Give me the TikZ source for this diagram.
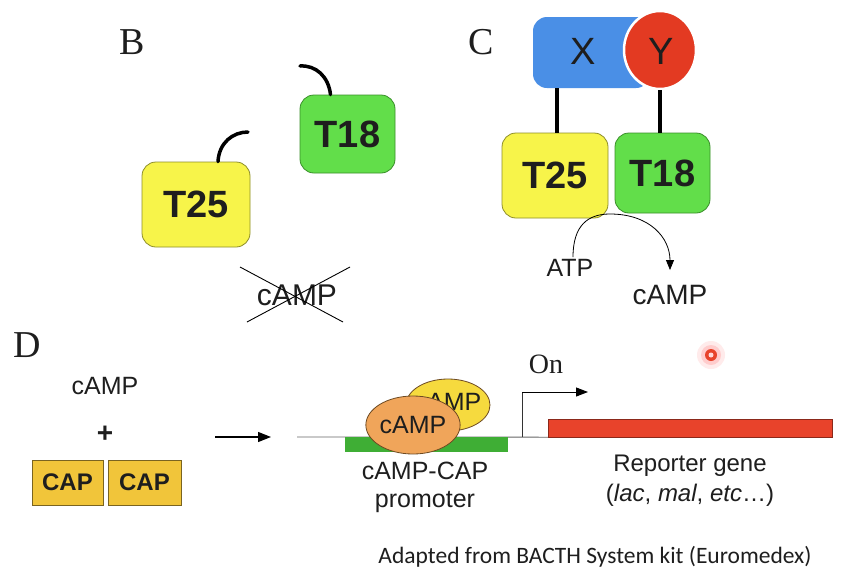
\documentclass[tikz,border=0pt]{standalone}
\usepackage{fontspec}
\setmainfont{Liberation Sans}
\newfontfamily\serifletters{Liberation Serif}
\newfontfamily\footfont{Carlito}
\usetikzlibrary{shapes.geometric,arrows.meta}
\definecolor{tyel}{HTML}{F7F44A}
\definecolor{tyeld}{HTML}{8E8E2A}
\definecolor{tgrn}{HTML}{62DE4A}
\definecolor{tgrnd}{HTML}{3A8F2A}
\definecolor{xblue}{HTML}{4A8FE6}
\definecolor{yred}{HTML}{E33A22}
\definecolor{capgold}{HTML}{F1C53A}
\definecolor{capd}{HTML}{7A6420}
\definecolor{orng}{HTML}{F0A55A}
\definecolor{orngd}{HTML}{6E4A22}
\definecolor{yell2}{HTML}{F6DA3E}
\definecolor{prgrn}{HTML}{3FAE35}
\definecolor{repred}{HTML}{E8432B}
\definecolor{txt}{HTML}{1E1E1E}
\begin{document}
\begin{tikzpicture}[x=1pt,y=-1pt,
  tbox/.style={draw, line width=0.8pt, rounded corners=14pt, inner sep=0pt,
    font=\fontsize{38}{38}\selectfont\bfseries, text=txt},
  yelbox/.style={tbox, fill=tyel, draw=tyeld},
  grnbox/.style={tbox, fill=tgrn, draw=tgrnd},
  tether/.style={line width=3.5pt, line cap=round},
  letter/.style={font=\serifletters\fontsize{38}{38}\selectfont, text=txt},
  lbl/.style={font=\fontsize{#1}{#1}\selectfont, text=txt, inner sep=0pt},
  capbox/.style={draw=capd, line width=0.8pt, fill=capgold, inner sep=0pt,
    font=\fontsize{24}{24}\selectfont\bfseries, text=txt}
]
\useasboundingbox[fill=white] (0,0) rectangle (854,584);

% ---------- Panel B ----------
\node[letter] (lB) at (132,42) {B};
\node[grnbox, minimum width=95pt, minimum height=78pt] (B18) at (347.5,134) {T18};
\node[yelbox, minimum width=108pt, minimum height=85pt] (B25) at (196,204.5) {T25};
\coordinate (t18e) at (300,66);
\coordinate (t25e) at (248,132);
\draw[tether] ([xshift=-17pt]B18.north) .. controls +(-2,-18) and +(16,-1) .. (t18e);
\draw[tether] ([xshift=22pt]B25.north) .. controls +(1,-19) and +(-15,0) .. (t25e);
\node[lbl=30] (bcamp) at (297,295) {cAMP};
\coordinate (x1a) at (240,267); \coordinate (x1b) at (343,322);
\coordinate (x2a) at (350,267); \coordinate (x2b) at (247,322);
\draw[line width=0.9pt] (x1a) -- (x1b);
\draw[line width=0.9pt] (x2a) -- (x2b);

% ---------- Panel C ----------
\node[letter] (lC) at (481,42) {C};
\node[draw=none, fill=xblue, rounded corners=14pt, minimum width=117pt, minimum height=71pt, inner sep=0pt] (Xb) at (591.5,52.5) {};
\node[lbl=38] (Xl) at (583,51) {X};
\node[ellipse, fill=yred, draw=white, line width=2.5pt, minimum width=72pt, minimum height=78pt, inner sep=0pt] (Yb) at (660,50) {};
\node[lbl=38] (Yl) at (661,51) {Y};
\node[yelbox, minimum width=106pt, minimum height=85pt] (C25) at (555,175.5) {T25};
\node[grnbox, minimum width=95pt, minimum height=80pt] (C18) at (662.5,173) {T18};
\draw[line width=3.5pt] ([xshift=2pt]C25.north) -- ([xshift=2pt]C25.north |- Xb.south);
\draw[line width=3.5pt] (Yb.south) -- (Yb.south |- C18.north);
\node[lbl=25] (atp) at (570,268) {ATP};
\node[lbl=28] (ccamp) at (670,295) {cAMP};
\coordinate (cmid) at (610,214);
\draw[line width=0.8pt, -{Triangle[length=10pt,width=8pt]}]
  ([xshift=3pt,yshift=2pt]atp.north) .. controls +(0,-32) and +(-22,0) .. (cmid)
  .. controls +(40,0) and +(0,-32) .. ([yshift=15pt]ccamp.north);

% ---------- Panel D ----------
\node[letter] (lD) at (27,345) {D};
\node[lbl=25] (dcamp) at (105,386) {cAMP};
\node[font=\fontsize{28}{28}\selectfont\bfseries, text=txt, inner sep=0pt] (plus) at (105,434) {+};
\node[capbox, minimum width=71pt, minimum height=45pt] (cap1) at (67.5,482.5) {CAP};
\node[capbox, minimum width=73pt, minimum height=45pt] (cap2) at (144.5,482.5) {CAP};
\coordinate (ar1) at (215,437);
\coordinate (ar2) at (271,437);
\draw[line width=1.2pt, -{Triangle[length=13pt,width=10pt]}] (ar1) -- (ar2);

\node[draw=none, fill=repred, minimum width=284pt, minimum height=18pt, inner sep=0pt] (rep) at (690,428) {};
\draw[repred!60!black, line width=0.6pt] (rep.south west) rectangle (rep.north east);
\coordinate (dnaL) at (297,437);
\draw[line width=0.9pt, black!60] (dnaL) -- (rep.south west);
\node[fill=prgrn, minimum width=163pt, minimum height=15pt, inner sep=0pt] (prom) at (426.5,444.5) {};
\node[ellipse, fill=yell2, draw=orngd, line width=0.8pt, minimum width=84pt, minimum height=52pt, inner sep=0pt] (e2) at (448,405) {};
\node[lbl=25] (e2l) at (448,402) {cAMP};
\node[ellipse, fill=orng, draw=orngd, line width=0.8pt, minimum width=92pt, minimum height=58pt, inner sep=0pt, font=\fontsize{25}{25}\selectfont, text=txt] (e1) at (413,425) {cAMP};
\node[lbl=25] (pr1) at (425,471) {cAMP-CAP};
\node[lbl=25] (pr2) at (425,502) {promoter};

\coordinate (tss) at (522,437);
\coordinate (tsscorner) at (522,392);
\coordinate (tssend) at (588,392);
\draw[line width=1pt, black!80] (tss) -- (tsscorner);
\draw[line width=1pt, black, -{Triangle[length=12pt,width=9pt]}] (tsscorner) -- (tssend);
\node[font=\serifletters\fontsize{28}{28}\selectfont, text=txt, inner sep=0pt] (on) at (546,364) {On};

\node[lbl=24] (rg1) at (690,466) {Reporter gene};
\node[lbl=24] (rg2) at (690,495) {(\textit{lac}, \textit{mal}, \textit{etc}\ldots)};

\node[font=\footfont\fontsize{23.5}{23.5}\selectfont, text=txt, inner sep=0pt] (foot) at (595,557) {Adapted from BACTH System kit (Euromedex)};

% pointer dot
\fill[red!8] (711,355) circle (14pt);
\fill[red!20] (711,355) circle (10pt);
\fill[repred] (711,355) circle (6pt);
\fill[white!85!red] (711,355) circle (2.5pt);
\end{tikzpicture}
\end{document}
